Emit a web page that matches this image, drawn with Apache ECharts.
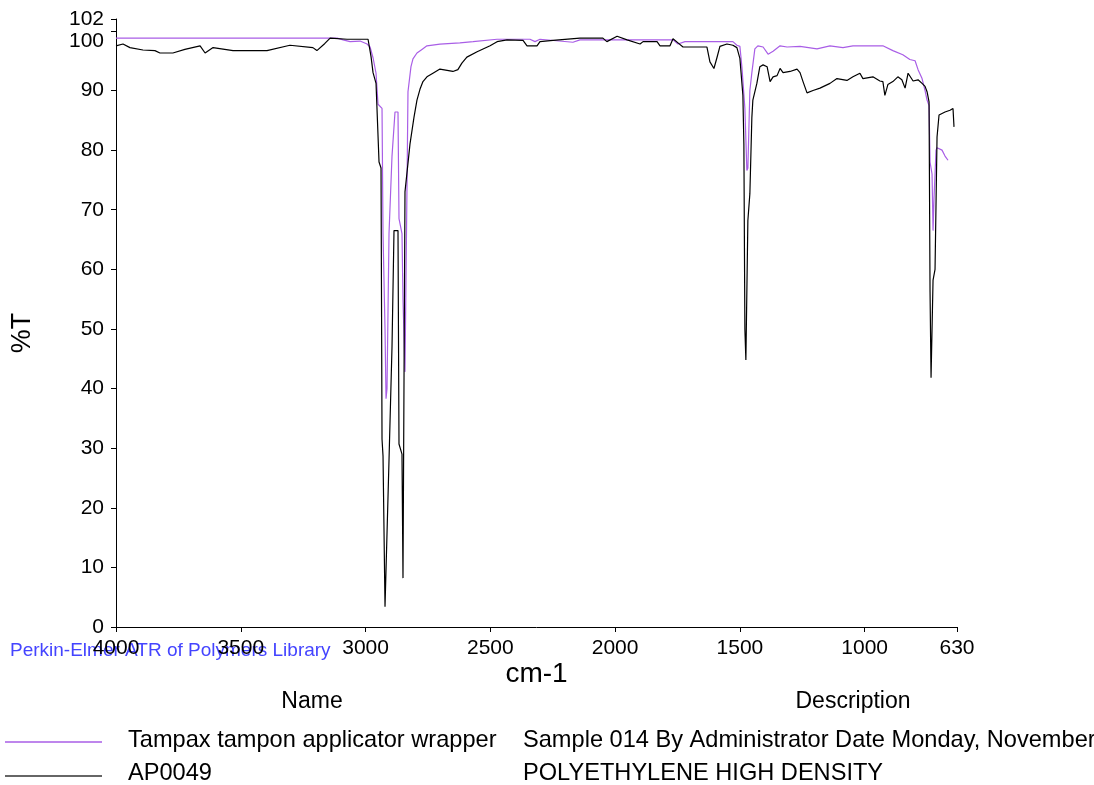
<!DOCTYPE html>
<html>
<head>
<meta charset="utf-8">
<script src="https://cdn.jsdelivr.net/npm/echarts@6/dist/echarts.min.js"></script>
<style>
html,body{margin:0;padding:0;background:#fff;}
#chart{width:1094px;height:785px;}
</style>
</head>
<body>
<div id="chart"></div>
<script>
// Sample: Tampax tampon applicator wrapper (purple)
var sampleWavenumbers = [4000,3114,3090,3062,3022,2994,2982,2970,2958,2950,2934,2930,2922,2918,2914,2906,2894,2882,2870,2866,2854,2850,2842,2834,2830,2818,2810,2794,2774,2754,2702,2622,2569,2473,2341,2321,2301,2169,2141,1768,1748,1720,1528,1512,1500,1492,1480,1472,1468,1460,1452,1440,1428,1407,1387,1367,1339,1311,1259,1191,1139,1087,1047,927,887,847,819,798,786,770,758,750,742,738,730,726,722,714,710,690,678,666];
var sampleTransmittance = [98.8,98.8,98.5,98.2,98.3,97.8,97.3,95.5,92.9,87.7,87,66,50,38.3,40,66,79,86.4,86.4,68.5,66,55,42.8,73.6,89.8,94,95.3,96.3,96.9,97.5,97.8,98,98.2,98.6,98.6,98.2,98.6,98.1,98.5,98.5,97.8,98.2,98.2,97.6,97.4,94,87,76.6,77,90,93,97,97.5,97.3,96.1,96.6,97.5,97.3,97.4,97,97.5,97.2,97.5,97.5,96.7,96,95.2,95,93.5,92,90,88.4,87.5,78,76,66.5,72,80,80.4,80,79,78.3];

// Library reference: AP0049 POLYETHYLENE HIGH DENSITY (black)
var refWavenumbers = [4000,3972,3944,3892,3844,3824,3772,3724,3663,3643,3611,3531,3395,3303,3211,3195,3163,3142,3074,2990,2978,2970,2958,2946,2938,2934,2930,2922,2914,2906,2894,2886,2870,2866,2854,2850,2842,2822,2806,2794,2782,2770,2754,2730,2702,2650,2630,2614,2594,2553,2501,2473,2433,2369,2353,2313,2301,2249,2141,2049,2033,1992,1952,1900,1888,1832,1820,1780,1768,1748,1728,1632,1620,1604,1592,1580,1552,1528,1512,1500,1488,1484,1480,1476,1468,1460,1452,1448,1432,1420,1407,1391,1379,1367,1351,1339,1327,1299,1271,1259,1247,1231,1207,1179,1139,1111,1071,1047,1019,1007,967,939,927,919,907,887,867,851,838,826,806,786,770,758,750,742,738,734,726,718,710,702,678,658,646,642];
var refTransmittance = [97.5,97.8,97.2,96.8,96.7,96.3,96.3,96.9,97.5,96.3,97.2,96.7,96.7,97.6,97.2,96.7,97.9,98.8,98.6,98.6,95.7,93,91.2,78,77,31.5,28.7,3.4,3.4,28,47,66.5,66.5,30.7,29,8.2,73,81,85.5,88.4,90.2,91.5,92.3,92.9,93.6,93.2,93.5,94.6,95.6,96.5,97.5,98.2,98.5,98.4,97.5,97.5,98.2,98.4,98.8,98.8,98.2,99.1,98.5,97.8,98.2,98.2,97.5,97.5,98.7,98,97.3,97.3,94.8,93.7,95.5,97.4,97.8,97.6,97.2,95.4,89.2,81,50,44.8,68.2,72.7,85.5,88.4,91.2,94,94.3,94,91.5,92.3,92.5,93.7,93,93.2,93.6,93,91.5,89.6,90,90.4,91.2,92,91.7,92.3,92.9,92,92.3,91.6,91.5,89.2,91,91.5,92.3,91.8,90.4,92.9,91.6,91.8,91.2,90.7,89.8,88.1,56.2,41.8,58.2,60,82.2,85.9,86.4,86.7,87,83.9];

var xTickValues = [4000,3500,3000,2500,2000,1500,1000,630];
var yTickValues = [0,10,20,30,40,50,60,70,80,90,100,102];

var seriesNames = ['Tampax tampon applicator wrapper','AP0049'];
var seriesDescriptions = ['Sample 014 By Administrator Date Monday, November','POLYETHYLENE HIGH DENSITY'];
var libraryLabel = 'Perkin-Elmer ATR of Polymers Library';

function zip(xs, ys){ return xs.map(function(x,i){ return [x, ys[i]]; }); }

var FONT = '"Liberation Sans", Arial, sans-serif';
var PURPLE = '#a95ee6';
var BLACK = '#000000';

var chart = echarts.init(document.getElementById('chart'), null, {renderer:'canvas'});
chart.setOption({
  animation: false,
  backgroundColor: '#ffffff',
  grid: {left:116, width:841, top:19, bottom:158, containLabel:false},
  xAxis: {
    type:'value', inverse:true, min:630, max:4000,
    name:'cm-1', nameLocation:'middle', nameGap:33, nameMoveOverlap:false,
    nameTextStyle:{fontSize:28, color:'#000', fontFamily:FONT},
    axisLine:{show:true, onZero:false, lineStyle:{color:'#000', width:1}},
    axisTick:{show:true, length:5, inside:false, customValues:xTickValues, lineStyle:{color:'#000'}},
    axisLabel:{show:true, margin:11, fontSize:21, color:'#000', fontFamily:FONT, customValues:xTickValues,
      formatter:function(v){ return String(v); }},
    splitLine:{show:false}
  },
  yAxis: {
    type:'value', min:0, max:102,
    axisLine:{show:true, onZero:false, lineStyle:{color:'#000', width:1}},
    axisTick:{show:true, length:5, customValues:yTickValues, lineStyle:{color:'#000'}},
    axisLabel:{show:true, margin:12, fontSize:21, color:'#000', fontFamily:FONT, customValues:yTickValues,
      formatter:function(v){ return v===100 ? '{lo|100}' : String(v); },
      rich:{lo:{fontSize:21, color:'#000', fontFamily:FONT, padding:[20,0,0,0]}}
    },
    splitLine:{show:false}
  },
  series: [
    {name:seriesNames[0], type:'line', data:zip(sampleWavenumbers, sampleTransmittance), showSymbol:false, symbol:'none',
     lineStyle:{color:PURPLE, width:1.2}, itemStyle:{color:PURPLE}, z:2},
    {name:seriesNames[1], type:'line', data:zip(refWavenumbers, refTransmittance), showSymbol:false, symbol:'none',
     lineStyle:{color:BLACK, width:1.2}, itemStyle:{color:BLACK}, z:3}
  ],
  graphic: [
    {type:'text', z:0, left:10, top:641, style:{text:libraryLabel, font:'19px '+FONT, fill:'#4444ff'}},
    {type:'text', rotation:Math.PI/2, x:23, y:333, style:{text:'%T', font:'27px '+FONT, fill:'#000', align:'center', verticalAlign:'middle'}},
    {type:'text', x:312, y:702, style:{text:'Name', font:'23px '+FONT, fill:'#000', align:'center', verticalAlign:'middle'}},
    {type:'text', x:853, y:702, style:{text:'Description', font:'23px '+FONT, fill:'#000', align:'center', verticalAlign:'middle'}},
    {type:'line', shape:{x1:5, y1:742, x2:102, y2:742}, style:{stroke:PURPLE, lineWidth:1.5}},
    {type:'line', shape:{x1:5, y1:776, x2:102, y2:776}, style:{stroke:'#333', lineWidth:1.5}},
    {type:'text', x:128, y:740, style:{text:seriesNames[0], font:'23.6px '+FONT, fill:'#000', verticalAlign:'middle'}},
    {type:'text', x:523, y:740, style:{text:seriesDescriptions[0], font:'23.6px '+FONT, fill:'#000', verticalAlign:'middle'}},
    {type:'text', x:128, y:773, style:{text:seriesNames[1], font:'23.6px '+FONT, fill:'#000', verticalAlign:'middle'}},
    {type:'text', x:523, y:773, style:{text:seriesDescriptions[1], font:'23.6px '+FONT, fill:'#000', verticalAlign:'middle'}}
  ]
});
</script>
</body>
</html>
